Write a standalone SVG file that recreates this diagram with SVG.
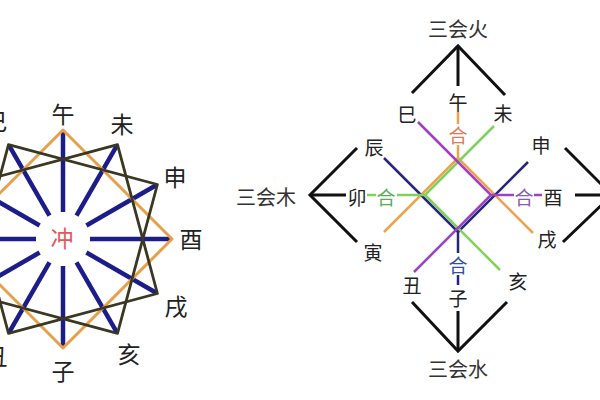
<svg xmlns="http://www.w3.org/2000/svg" xmlns:xlink="http://www.w3.org/1999/xlink" width="600" height="400" viewBox="0 0 600 400">
  <style>
    text { font-family: 'Noto Sans CJK SC', 'Noto Sans CJK JP', sans-serif; text-anchor: middle; dominant-baseline: central; fill: #222; }
    .lb { font-size: 23px; }
    .rb { font-size: 19px; }
    .hui { font-size: 20px; fill: #333; }
    .chong { font-size: 23px; fill: #e05a5a; }
    .spoke { stroke: #1c1c8a; stroke-width: 4.5; fill: none; }
    .sqo { stroke: #e6a04c; stroke-width: 3; fill: none; stroke-linejoin: round; }
    .sqd { stroke: #3a3820; stroke-width: 2.8; fill: none; stroke-linejoin: round; }
    .blk { stroke: #111; stroke-width: 3; fill: none; stroke-linejoin: miter; }
    .or { stroke: #eea24e; stroke-width: 2.5; fill: none; }
    .nv { stroke: #26267a; stroke-width: 2.5; fill: none; }
    .gr { stroke: #7fd25c; stroke-width: 2.5; fill: none; }
    .pu { stroke: #a040c0; stroke-width: 2.5; fill: none; }
    .ho { fill: #e07a5a; }
    .hn { fill: #3050a8; }
    .hg { fill: #55b055; }
    .hp { fill: #8a5cb5; }
  </style>
  <defs>
    <line id="spk" x1="0" y1="-27" x2="0" y2="-108"/>
  </defs>
  <rect width="600" height="400" fill="#fff"/>

  <!-- Left wheel connectors -->
  <g id="connectors-left">
    <g class="spoke" transform="translate(63,239)">
      <use xlink:href="#spk"/>
      <use xlink:href="#spk" transform="rotate(30)"/>
      <use xlink:href="#spk" transform="rotate(60)"/>
      <use xlink:href="#spk" transform="rotate(90)"/>
      <use xlink:href="#spk" transform="rotate(120)"/>
      <use xlink:href="#spk" transform="rotate(150)"/>
      <use xlink:href="#spk" transform="rotate(180)"/>
      <use xlink:href="#spk" transform="rotate(210)"/>
      <use xlink:href="#spk" transform="rotate(240)"/>
      <use xlink:href="#spk" transform="rotate(270)"/>
      <use xlink:href="#spk" transform="rotate(300)"/>
      <use xlink:href="#spk" transform="rotate(330)"/>
    </g>
    <polygon class="sqo" points="63,130 172,239 63,348 -46,239"/>
    <polygon class="sqd" points="8.5,144.6 157.4,184.5 117.5,333.4 -31.4,293.5"/>
    <polygon class="sqd" points="117.5,144.6 157.4,293.5 8.5,333.4 -31.4,184.5"/>
  </g>

  <!-- Left wheel nodes -->
  <g id="wheel-chong"><text class="chong" x="62" y="237">冲</text></g>
  <g id="wheel-wu"><text class="lb" x="63" y="113">午</text></g>
  <g id="wheel-wei"><text class="lb" x="122" y="123">未</text></g>
  <g id="wheel-shen"><text class="lb" x="175" y="176">申</text></g>
  <g id="wheel-you"><text class="lb" x="191" y="238">酉</text></g>
  <g id="wheel-xu"><text class="lb" x="176" y="305">戌</text></g>
  <g id="wheel-hai"><text class="lb" x="129" y="353">亥</text></g>
  <g id="wheel-zi"><text class="lb" x="63" y="370">子</text></g>
  <g id="wheel-chou"><text class="lb" x="-4" y="355">丑</text></g>
  <g id="wheel-si"><text class="lb" x="-4" y="120">巳</text></g>

  <!-- Right diagram connectors -->
  <g id="connectors-right">
    <!-- 三会 brackets -->
    <polyline class="blk" points="412,93 458,46 505,95"/>
    <line class="blk" x1="458" y1="46" x2="458" y2="86"/>
    <polyline class="blk" points="357,148 310,195 357,242"/>
    <line class="blk" x1="310" y1="195" x2="346" y2="195"/>
    <polyline class="blk" points="412,302 458,351 507,302"/>
    <line class="blk" x1="458" y1="311" x2="458" y2="351"/>
    <polyline class="blk" points="565,148 612,195 563,242"/>
    <line class="blk" x1="575" y1="195" x2="612" y2="195"/>
    <!-- 寅午戌 -->
    <polyline class="or" points="384,232 458,158 533,233"/>
    <line class="or" x1="458" y1="158" x2="458" y2="145"/>
    <line class="or" x1="458" y1="124" x2="458" y2="111"/>
    <!-- 申子辰 -->
    <polyline class="nv" points="384,158 458,232 528,162"/>
    <line class="nv" x1="458" y1="232" x2="458" y2="253"/>
    <line class="nv" x1="458" y1="275" x2="458" y2="285"/>
    <!-- 亥卯未 -->
    <polyline class="gr" points="494,126 425,195 500,270"/>
    <line class="gr" x1="425" y1="195" x2="397" y2="195"/>
    <line class="gr" x1="376" y1="195" x2="367" y2="195"/>
    <!-- 巳酉丑 -->
    <polyline class="pu" points="418,122 491,195 414,272"/>
    <line class="pu" x1="491" y1="195" x2="514" y2="195"/>
    <line class="pu" x1="534" y1="195" x2="542" y2="195"/>
  </g>

  <!-- Right diagram nodes -->
  <g id="hui-fire"><text class="hui" x="458" y="28">三会火</text></g>
  <g id="hui-wood"><text class="hui" x="266" y="196">三会木</text></g>
  <g id="hui-water"><text class="hui" x="458" y="368">三会水</text></g>
  <g id="r-wu"><text class="rb" x="458" y="101">午</text></g>
  <g id="r-si"><text class="rb" x="407" y="113">巳</text></g>
  <g id="r-wei"><text class="rb" x="503" y="112">未</text></g>
  <g id="r-chen"><text class="rb" x="374" y="146">辰</text></g>
  <g id="r-shen"><text class="rb" x="541" y="144">申</text></g>
  <g id="r-mao"><text class="rb" x="357" y="196">卯</text></g>
  <g id="r-you"><text class="rb" x="553" y="196">酉</text></g>
  <g id="r-yin"><text class="rb" x="373" y="251">寅</text></g>
  <g id="r-xu"><text class="rb" x="547" y="238">戌</text></g>
  <g id="r-chou"><text class="rb" x="412" y="284">丑</text></g>
  <g id="r-hai"><text class="rb" x="518" y="280">亥</text></g>
  <g id="r-zi"><text class="rb" x="458" y="297">子</text></g>
  <g id="he-fire"><text class="rb ho" x="458" y="134">合</text></g>
  <g id="he-wood"><text class="rb hg" x="386" y="196">合</text></g>
  <g id="he-metal"><text class="rb hp" x="524" y="196">合</text></g>
  <g id="he-water"><text class="rb hn" x="458" y="264">合</text></g>
</svg>
